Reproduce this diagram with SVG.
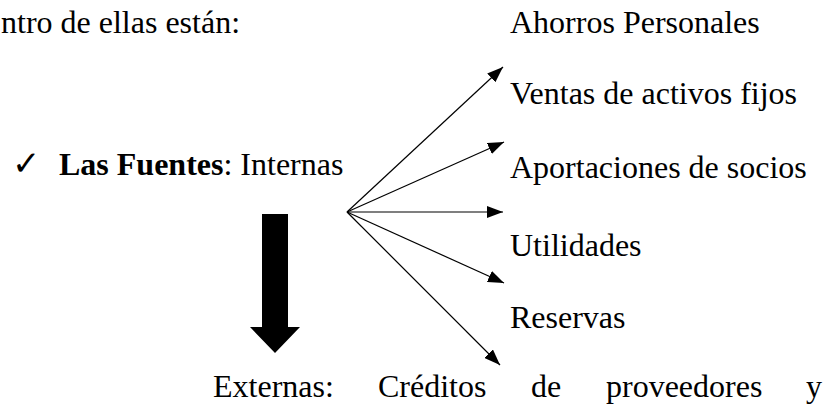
<svg xmlns="http://www.w3.org/2000/svg" width="830" height="406" viewBox="0 0 830 406">
<style>
text{font-family:"Liberation Serif","Times New Roman",serif;font-size:32px;fill:#000}
.b{font-weight:bold}
.chk{font-family:"DejaVu Sans",sans-serif;font-size:34px}
.conn line{stroke:#000;stroke-width:1.2}
</style>
<defs>
<marker id="ah" viewBox="0 0 16 12" refX="16" refY="6" markerWidth="16" markerHeight="12" markerUnits="userSpaceOnUse" orient="auto">
<path d="M0,0 L16,6 L0,12 Z" fill="#000"/>
</marker>
</defs>
<rect width="830" height="406" fill="#fff"/>
<g id="intro"><text x="1" y="33">ntro de ellas están:</text></g>
<g id="fuentes">
<text class="chk" x="12" y="175">✓</text>
<text x="59" y="175"><tspan class="b">Las Fuentes</tspan>: Internas</text>
</g>
<g id="n1"><text x="510" y="33">Ahorros Personales</text></g>
<g id="n2"><text x="510" y="104">Ventas de activos fijos</text></g>
<g id="n3"><text x="510" y="178">Aportaciones de socios</text></g>
<g id="n4"><text x="510" y="256">Utilidades</text></g>
<g id="n5"><text x="510" y="328">Reservas</text></g>
<g id="externas">
<text y="397"><tspan x="213">Externas:</tspan><tspan x="378">Créditos</tspan><tspan x="531">de</tspan><tspan x="606">proveedores</tspan><tspan x="806">y</tspan></text>
</g>
<g id="bigarrow"><path d="M262,214 H288 V327 H300 L275,353 L250,327 H262 Z" fill="#000"/></g>
<g class="conn" id="connectors">
<line x1="347" y1="212" x2="503" y2="67" marker-end="url(#ah)"/>
<line x1="347" y1="212" x2="504" y2="142" marker-end="url(#ah)"/>
<line x1="347" y1="212" x2="503" y2="212" marker-end="url(#ah)"/>
<line x1="347" y1="212" x2="504" y2="283" marker-end="url(#ah)"/>
<line x1="347" y1="212" x2="500" y2="365" marker-end="url(#ah)"/>
</g>
</svg>
